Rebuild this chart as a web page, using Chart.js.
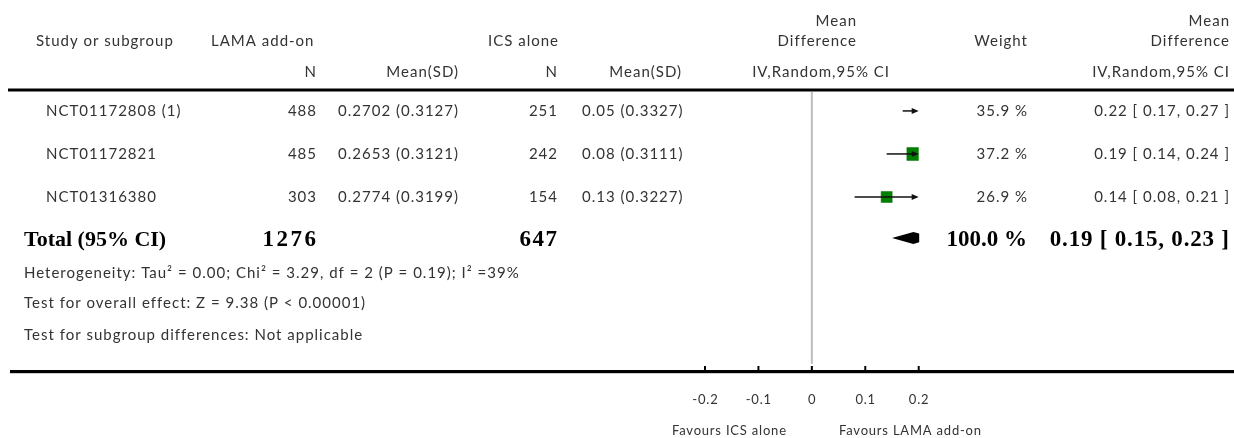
<!DOCTYPE html>
<html>
<head>
<meta charset="utf-8">
<script src="https://cdn.jsdelivr.net/npm/chart.js@4/dist/chart.umd.min.js"></script>
<style>
  html, body { margin: 0; padding: 0; background: #fff; }
  #wrap { width: 1234px; height: 438px; }
</style>
</head>
<body>
<div id="wrap"><canvas id="forest" width="1234" height="438"></canvas></div>
<script>
// Studies and their summary statistics
const studies   = ['NCT01172808 (1)', 'NCT01172821', 'NCT01316380'];
const lamaN     = [488, 485, 303];
const lamaMean  = ['0.2702', '0.2653', '0.2774'];
const lamaSD    = ['0.3127', '0.3121', '0.3199'];
const icsN      = [251, 242, 154];
const icsMean   = ['0.05', '0.08', '0.13'];
const icsSD     = ['0.3327', '0.3111', '0.3227'];
const meanDiff  = [0.22, 0.19, 0.14];
const ciLow     = [0.17, 0.14, 0.08];
const ciHigh    = [0.27, 0.24, 0.21];
const weights   = [35.9, 37.2, 26.9];

// Pooled estimate
const totalLamaN = 1276;
const totalIcsN  = 647;
const totalMD    = 0.19;
const totalLow   = 0.15;
const totalHigh  = 0.23;
const totalWeight = 100.0;

// Axis
const tickValues = [-0.2, -0.1, 0, 0.1, 0.2];
const tickLabels = ['-0.2', '-0.1', '0', '0.1', '0.2'];
const favoursLeft  = 'Favours ICS alone';
const favoursRight = 'Favours LAMA add-on';

const heterogeneity = 'Heterogeneity: Tau\u00B2 = 0.00; Chi\u00B2 = 3.29, df = 2 (P = 0.19); I\u00B2 =39%';
const overallEffect = 'Test for overall effect: Z = 9.38 (P < 0.00001)';
const subgroupTest  = 'Test for subgroup differences: Not applicable';

const SANS = '"Lato", "Open Sans", sans-serif';
const SERIF = '"Liberation Serif", "DejaVu Serif", serif';
const INK = '#333';

const fmt2 = v => v.toFixed(2);
const ciText = (m, l, h) => fmt2(m) + ' [ ' + fmt2(l) + ', ' + fmt2(h) + ' ]';

// Draws one label; spacing is added after every glyph, so shift the anchor to compensate
function text(ctx, str, x, y, align, font, color, spacing) {
  const sp = spacing === undefined ? 1 : spacing;
  ctx.font = font;
  ctx.textAlign = align;
  ctx.textBaseline = 'middle';
  ctx.fillStyle = color || INK;
  ctx.letterSpacing = sp + 'px';
  const dx = align === 'right' ? sp : align === 'center' ? sp / 2 : 0;
  ctx.fillText(str, x + dx, y);
  ctx.letterSpacing = '0px';
}

// Square side grows with the square root of the study weight
const boxRadius = w => 2.13 * Math.sqrt(w) / (2 * Math.SQRT1_2);

const forestPlugin = {
  id: 'forest',
  beforeDatasetsDraw(chart) {
    const { ctx, scales: { x, y } } = chart;
    // line of no effect
    const x0 = x.getPixelForValue(0);
    ctx.save();
    ctx.strokeStyle = '#bdbdbd';
    ctx.lineWidth = 2;
    ctx.beginPath();
    ctx.moveTo(x0, y.getPixelForValue(-0.44));
    ctx.lineTo(x0, 364);
    ctx.stroke();
    ctx.restore();
  },
  afterDatasetsDraw(chart) {
    const { ctx, scales: { x, y } } = chart;
    const xmin = x.min, xmax = x.max;
    ctx.save();
    ctx.strokeStyle = '#111';
    ctx.fillStyle = '#111';
    ctx.lineWidth = 1.5;
    studies.forEach((s, i) => {
      const py = y.getPixelForValue(i);
      const lo = Math.max(ciLow[i], xmin), hi = Math.min(ciHigh[i], xmax);
      const xl = x.getPixelForValue(lo), xr = x.getPixelForValue(hi);
      ctx.beginPath();
      ctx.moveTo(xl, py);
      ctx.lineTo(ciHigh[i] > xmax ? xr - 5 : xr, py);
      ctx.stroke();
      if (ciHigh[i] > xmax) {
        ctx.beginPath();
        ctx.moveTo(xr, py);
        ctx.lineTo(xr - 7, py - 3);
        ctx.lineTo(xr - 7, py + 3);
        ctx.closePath();
        ctx.fill();
      }
      if (ciLow[i] < xmin) {
        ctx.beginPath();
        ctx.moveTo(xl, py);
        ctx.lineTo(xl + 7, py - 3);
        ctx.lineTo(xl + 7, py + 3);
        ctx.closePath();
        ctx.fill();
      }
    });
    // pooled diamond, clipped to the plotted range
    const dy = y.getPixelForValue(3) - 2;
    ctx.save();
    ctx.beginPath();
    ctx.rect(x.left, chart.chartArea.top, x.right - x.left + 0.5, chart.chartArea.bottom - chart.chartArea.top);
    ctx.clip();
    ctx.beginPath();
    ctx.moveTo(x.getPixelForValue(totalLow), dy);
    ctx.lineTo(x.getPixelForValue(totalMD), dy - 6);
    ctx.lineTo(x.getPixelForValue(totalHigh), dy);
    ctx.lineTo(x.getPixelForValue(totalMD), dy + 6);
    ctx.closePath();
    ctx.fillStyle = '#000';
    ctx.fill();
    ctx.restore();
    ctx.restore();
  },
  afterDraw(chart) {
    const { ctx, scales: { x, y } } = chart;
    ctx.save();
    const f15 = '15px ' + SANS;
    const boldLabel = 'bold 22px ' + SERIF;
    const boldNum = 'bold 23px ' + SERIF;

    // header
    text(ctx, 'Study or subgroup', 36, 41, 'left', f15);
    text(ctx, 'LAMA add-on', 211, 41, 'left', f15);
    text(ctx, 'ICS alone', 558, 41, 'right', f15);
    text(ctx, 'Mean', 856, 21, 'right', f15);
    text(ctx, 'Difference', 856, 41, 'right', f15);
    text(ctx, 'Weight', 1027, 41, 'right', f15);
    text(ctx, 'Mean', 1229, 21, 'right', f15);
    text(ctx, 'Difference', 1229, 41, 'right', f15);
    text(ctx, 'N', 316, 72, 'right', f15);
    text(ctx, 'Mean(SD)', 458, 72, 'right', f15);
    text(ctx, 'N', 557, 72, 'right', f15);
    text(ctx, 'Mean(SD)', 681, 72, 'right', f15);
    text(ctx, 'IV,Random,95% CI', 889, 72, 'right', f15);
    text(ctx, 'IV,Random,95% CI', 1229, 72, 'right', f15);

    ctx.fillStyle = '#000';
    ctx.fillRect(8, 88.5, 1226, 3);

    // study rows
    studies.forEach((s, i) => {
      const py = y.getPixelForValue(i);
      text(ctx, s, 46, py, 'left', f15);
      text(ctx, String(lamaN[i]), 316, py, 'right', f15);
      text(ctx, lamaMean[i] + ' (' + lamaSD[i] + ')', 458, py, 'right', f15);
      text(ctx, String(icsN[i]), 557, py, 'right', f15);
      text(ctx, icsMean[i] + ' (' + icsSD[i] + ')', 582, py, 'left', f15);
      text(ctx, weights[i].toFixed(1) + ' %', 1027, py, 'right', f15);
      text(ctx, ciText(meanDiff[i], ciLow[i], ciHigh[i]), 1229, py, 'right', f15);
    });

    // pooled row
    const ty = y.getPixelForValue(3);
    text(ctx, 'Total (95% CI)', 24, ty, 'left', boldLabel, '#000', 0);
    text(ctx, String(totalLamaN), 316, ty, 'right', boldNum, '#000', 2.5);
    text(ctx, String(totalIcsN), 557, ty, 'right', boldNum, '#000', 1.5);
    text(ctx, totalWeight.toFixed(1) + ' %', 1027, ty, 'right', boldNum, '#000', 0);
    text(ctx, ciText(totalMD, totalLow, totalHigh), 1229, ty, 'right', boldNum, '#000', 0.8);

    text(ctx, heterogeneity, 24, 273, 'left', f15);
    text(ctx, overallEffect, 24, 303, 'left', f15);
    text(ctx, subgroupTest, 24, 335, 'left', f15);

    // effect axis
    ctx.fillStyle = '#000';
    ctx.fillRect(10, 370, 1224, 3.2);
    tickValues.forEach((v, i) => {
      const px = x.getPixelForValue(v);
      ctx.fillStyle = '#000';
      ctx.fillRect(px - 1, 366, 2, 5);
      text(ctx, tickLabels[i], px, 400, 'center', '13px ' + SANS, INK, 0.8);
    });
    text(ctx, favoursLeft, 729, 431, 'center', '13px ' + SANS, INK, 0.8);
    text(ctx, favoursRight, 910, 431, 'center', '13px ' + SANS, INK, 0.8);
    ctx.restore();
  }
};

new Chart(document.getElementById('forest'), {
  type: 'scatter',
  data: {
    datasets: [{
      data: meanDiff.map((v, i) => ({ x: v, y: i })),
      pointStyle: 'rect',
      pointRadius: weights.map(boxRadius),
      pointHoverRadius: weights.map(boxRadius),
      backgroundColor: '#008000',
      borderColor: '#007000',
      borderWidth: 0.5,
      clip: 0
    }]
  },
  options: {
    responsive: false,
    devicePixelRatio: 1,
    animation: false,
    events: [],
    layout: { padding: { left: 705, right: 315.3, top: 92, bottom: 78 } },
    plugins: { legend: { display: false }, tooltip: { enabled: false } },
    scales: {
      x: { type: 'linear', min: -0.2, max: 0.2, display: false },
      y: { type: 'linear', min: -0.44, max: 5.79, reverse: true, display: false }
    }
  },
  plugins: [forestPlugin]
});
</script>
</body>
</html>
